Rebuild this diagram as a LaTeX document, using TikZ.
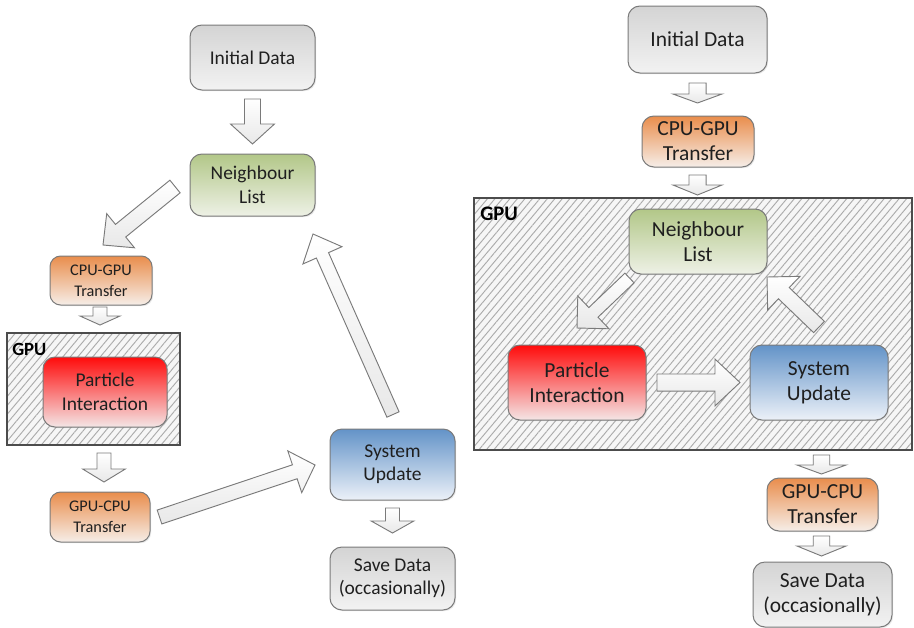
\documentclass[tikz,border=0pt]{standalone}
\usepackage{fontspec}
\setmainfont{Carlito}
\usetikzlibrary{calc,patterns.meta,shadows}
\definecolor{bordc}{HTML}{7A7A7A}
\definecolor{txtc}{HTML}{1F1F1F}
\definecolor{grayT}{HTML}{D4D4D4}\definecolor{grayB}{HTML}{F2F2F2}
\definecolor{grnT}{HTML}{B2C788}\definecolor{grnB}{HTML}{EEF1E6}
\definecolor{orgT}{HTML}{E98D4C}\definecolor{orgB}{HTML}{F6EEE8}
\definecolor{redT}{HTML}{FF0B0B}\definecolor{redB}{HTML}{F4E6E6}
\definecolor{bluT}{HTML}{6393C8}\definecolor{bluB}{HTML}{ECF1F8}
\definecolor{hatchbg}{HTML}{F6F6F6}\definecolor{hatchln}{HTML}{ABABAB}
\definecolor{arrT}{HTML}{FFFFFF}\definecolor{arrB}{HTML}{E8E8E8}
\newcommand\barrow[5]{%
  \path ($(#2)!#5!(#1)$) coordinate (bH);
  \draw[blockarr] ($(#1)!#3!90:(#2)$) -- ($(bH)!#3!90:(#2)$) -- ($(bH)!#4!90:(#2)$) -- (#2)
    -- ($(bH)!#4!-90:(#2)$) -- ($(bH)!#3!-90:(#2)$) -- ($(#1)!#3!-90:(#2)$) -- cycle;}
\tikzset{
  box/.style={draw=bordc, line width=0.75pt, rounded corners=9pt, align=center, inner sep=0pt, text=txtc,
    drop shadow={opacity=0.18, shadow xshift=0.9pt, shadow yshift=-0.9pt}},
  bigL/.style={font=\fontsize{14.6}{17.6}\selectfont},
  smlL/.style={font=\fontsize{12.2}{15.8}\selectfont},
  bigR/.style={font=\fontsize{16.1}{18.8}\selectfont},
  gbox/.style={top color=grayT, bottom color=grayB},
  nbox/.style={top color=grnT, bottom color=grnB},
  obox/.style={top color=orgT, bottom color=orgB},
  rbox/.style={top color=redT, bottom color=redB},
  ubox/.style={top color=bluT, bottom color=bluB},
  blockarr/.style={draw=bordc, line width=0.7pt, line join=miter, top color=arrT, bottom color=arrB},
  gpuarea/.style={draw=black!70, line width=1.1pt},
  hatch/.style={pattern={Lines[angle=50,distance=4.3pt,line width=0.7pt]}, pattern color=hatchln},
  gpulabel/.style={font=\bfseries\fontsize{14}{14}\selectfont, anchor=north west, inner sep=0pt}
}
\begin{document}
\begin{tikzpicture}[x=0.75pt,y=-0.75pt]
\useasboundingbox (0,0) rectangle (914,628);
% ---------- left GPU area ----------
\fill[hatchbg] (7,333) rectangle (180,445);
\path[hatch] (7,333) rectangle (180,445);
\draw[gpuarea] (7,333) rectangle (180,445);
\node[gpulabel] (lgpu) at (12,343) {GPU};
% ---------- right GPU area ----------
\fill[hatchbg] (474,198) rectangle (912,450);
\path[hatch] (474,198) rectangle (912,450);
\draw[gpuarea] (474,198) rectangle (912,450);
\node[gpulabel, font=\bfseries\fontsize{15.5}{15.5}\selectfont] (rgpu) at (480,207) {GPU};
% ---------- left nodes ----------
\node[box,bigL,gbox,minimum width=93.75pt,minimum height=48.75pt] (lid) at (252.5,57.5) {Initial Data};
\node[box,bigL,nbox,minimum width=93.75pt,minimum height=46.5pt] (lnl) at (252.5,185) {Neighbour\\List};
\node[box,smlL,obox,minimum width=76.5pt,minimum height=36.75pt,rounded corners=8pt] (lcg) at (101,280.5) {CPU-GPU\\Transfer};
\node[box,bigL,rbox,minimum width=93pt,minimum height=52.5pt] (lpi) at (105,392) {Particle\\Interaction};
\node[box,smlL,obox,minimum width=75pt,minimum height=37.5pt,rounded corners=8pt] (lgc) at (100,517) {GPU-CPU\\Transfer};
\node[box,bigL,ubox,minimum width=93.75pt,minimum height=53.25pt] (lsu) at (392.5,464.5) {System\\Update};
\node[box,bigL,gbox,minimum width=93.75pt,minimum height=47.25pt] (lsd) at (392.5,578.5) {Save Data\\(occasionally)};
% ---------- right nodes ----------
\node[box,bigR,gbox,minimum width=104.25pt,minimum height=50.25pt] (rid) at (697.5,39.5) {Initial Data};
\node[box,bigR,obox,minimum width=84pt,minimum height=38.25pt] (rcg) at (698,141.5) {CPU-GPU\\Transfer};
\node[box,bigR,nbox,minimum width=103.5pt,minimum height=48.75pt] (rnl) at (698,241.5) {Neighbour\\List};
\node[box,bigR,rbox,minimum width=103.5pt,minimum height=56.25pt] (rpi) at (577,382.5) {Particle\\Interaction};
\node[box,bigR,ubox,minimum width=103.5pt,minimum height=56.25pt] (rsu) at (819,382.5) {System\\Update};
\node[box,bigR,obox,minimum width=83.25pt,minimum height=39.75pt] (rgc) at (822.5,504.5) {GPU-CPU\\Transfer};
\node[box,bigR,gbox,minimum width=104.25pt,minimum height=48.75pt] (rsd) at (822.5,594.5) {Save Data\\(occasionally)};
% ---------- arrow end coordinates ----------
\coordinate (a1s) at (252.5,99);   \coordinate (a1e) at (252.5,144);
\coordinate (a2s) at (175,186.5);  \coordinate (a2e) at (103,245);
\coordinate (a3s) at (100,307);    \coordinate (a3e) at (100,325);
\coordinate (a4s) at (104,453);    \coordinate (a4e) at (104,482);
\coordinate (a5s) at (159.5,517);  \coordinate (a5e) at (315,465);
\coordinate (a6s) at (393,414.5);  \coordinate (a6e) at (313,234);
\coordinate (a7s) at (392.5,508);  \coordinate (a7e) at (392.5,533);
\coordinate (b1s) at (697.5,83);   \coordinate (b1e) at (697.5,103);
\coordinate (b2s) at (697.5,175);  \coordinate (b2e) at (697.5,195);
\coordinate (b3s) at (629.5,278);  \coordinate (b3e) at (577,328);
\coordinate (b4s) at (657,382.5);  \coordinate (b4e) at (740,382.5);
\coordinate (b5s) at (819,327);    \coordinate (b5e) at (767,277);
\coordinate (b6s) at (821.5,455);  \coordinate (b6e) at (821.5,474);
\coordinate (b7s) at (821.5,536);  \coordinate (b7e) at (821.5,556);
% ---------- left block arrows ----------
\barrow{a1s}{a1e}{6pt}{16.5pt}{15pt}
\barrow{a2s}{a2e}{6.1pt}{16.5pt}{17pt}
\barrow{a3s}{a3e}{5.25pt}{15pt}{6.75pt}
\barrow{a4s}{a4e}{5.25pt}{16pt}{9.75pt}
\barrow{a5s}{a5e}{5.5pt}{16.5pt}{16pt}
\barrow{a6s}{a6e}{5pt}{16pt}{17.5pt}
\barrow{a7s}{a7e}{5.25pt}{16pt}{9pt}
% ---------- right block arrows ----------
\barrow{b1s}{b1e}{6.4pt}{18.4pt}{6.75pt}
\barrow{b2s}{b2e}{6.4pt}{18.4pt}{7.5pt}
\barrow{b3s}{b3e}{5pt}{17pt}{17pt}
\barrow{b4s}{b4e}{6.4pt}{17.6pt}{18.75pt}
\barrow{b5s}{b5e}{5.85pt}{17.5pt}{17.5pt}
\barrow{b6s}{b6e}{6.2pt}{18.4pt}{6.75pt}
\barrow{b7s}{b7e}{6.2pt}{18.4pt}{7.5pt}
\end{tikzpicture}
\end{document}
